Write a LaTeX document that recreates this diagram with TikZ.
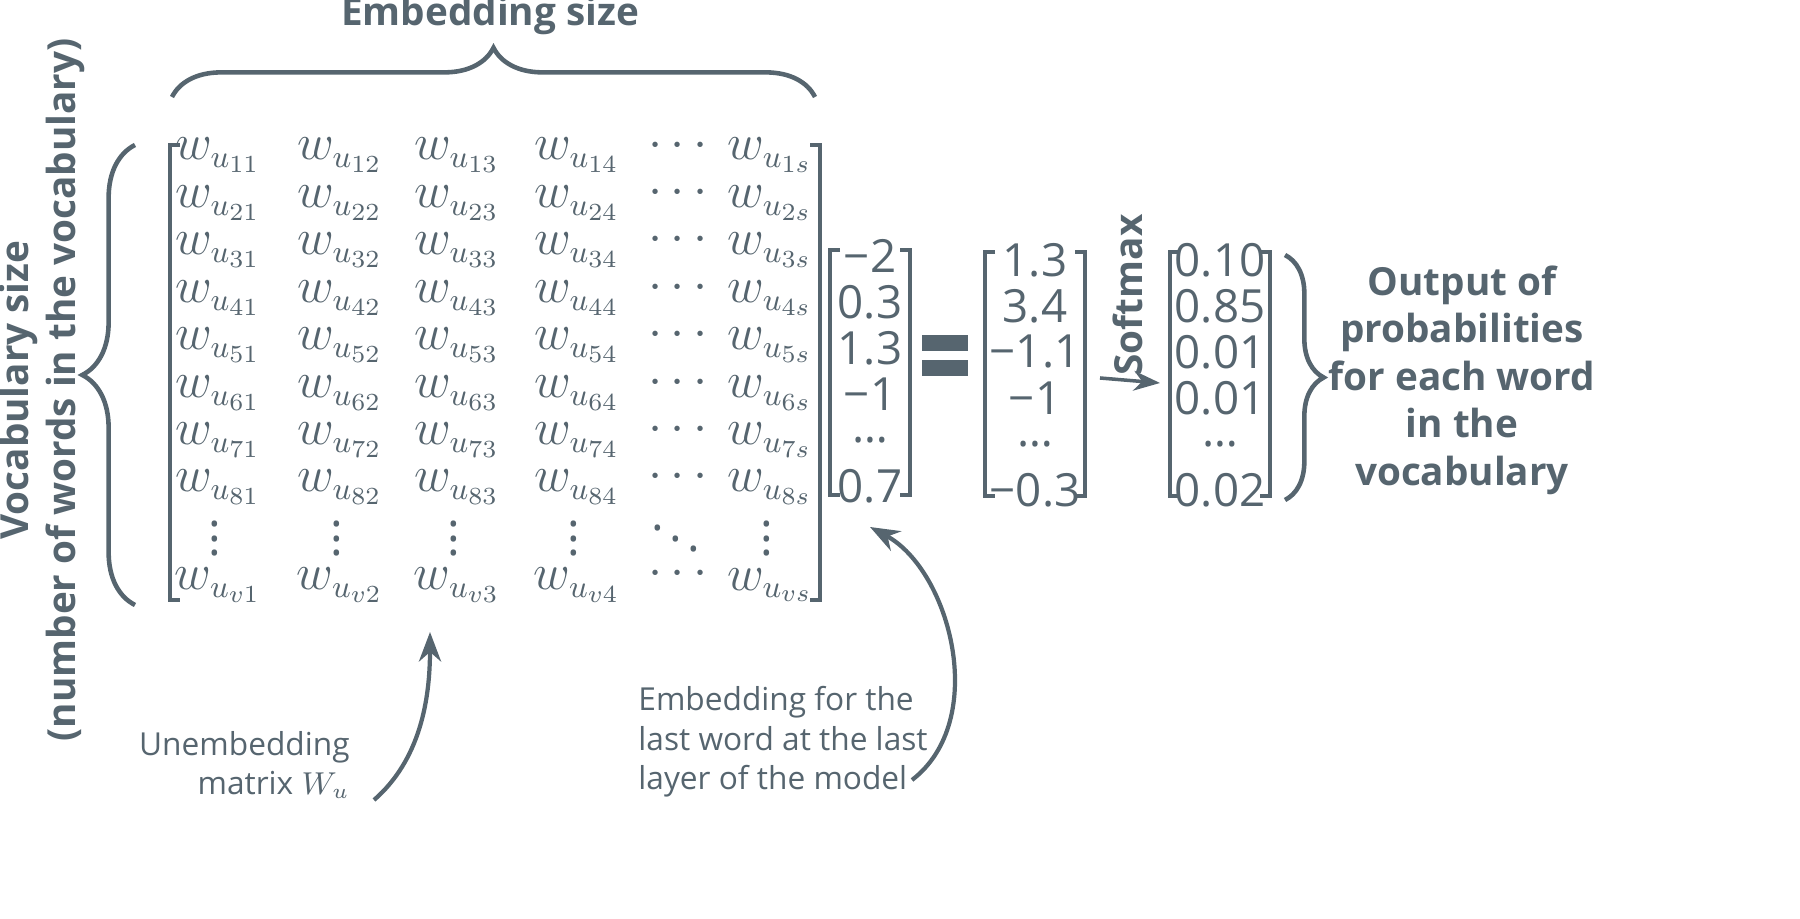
\documentclass[tikz,border=0pt]{standalone}
\usepackage{fontspec}
\setmainfont{Open Sans}
\usetikzlibrary{decorations.pathreplacing,positioning,arrows.meta}
\definecolor{penColor}{HTML}{56656F}
\tikzset{>=Stealth,
  entry/.style={text=penColor,font=\fontsize{13.5}{16}\selectfont},
  vec/.style={text=penColor,font=\fontsize{13}{15}\selectfont},
  lbl/.style={text=penColor,font=\bfseries\fontsize{11}{13.5}\selectfont,align=center},
  note/.style={text=penColor,font=\fontsize{9}{11.2}\selectfont},
  brk/.style={penColor,line width=1.2pt},
  brace/.style={penColor,line width=1.3pt,decorate,decoration={brace,amplitude=#1}},
  brace/.default=14pt}
\begin{document}
\begin{tikzpicture}[x=0.01cm,y=-0.01cm]
  \useasboundingbox (0,0) rectangle (1800,919);
  % unembedding matrix
  \foreach \c/\x/\j in {1/218/1,2/340/2,3/457/3,4/577/4,5/770/s}{
    \foreach \r/\y in {1/155,2/203,3/250,4/298,5/345,6/393,7/440,8/487}
      \node[entry] (w\c\r) at (\x,\y) {$w_{u_{\r\j}}$};
    \node[entry] (wd\c) at (\x-3,528) {$\vdots$};
    \node[entry] (wv\c) at (\x,585) {$w_{u_{v\j}}$};
  }
  \foreach \r/\y in {1/146,2/193,3/240,4/288,5/335,6/383,7/430,8/477,9/574}
    \node[entry] (dots\r) at (678,\y) {$\cdots$};
  \node[entry] (ddots) at (676,528) {$\ddots$};
  \draw[brk] (180,145) -- (170,145) -- (170,600) -- (180,600);
  \draw[brk] (810,145) -- (820,145) -- (820,600) -- (810,600);
  % embedding vector
  \foreach \v [count=\i] in {−2,0.3,1.3,−1,…,0.7}
    \node[vec] (e\i) at (870,210+46*\i) {\v};
  \draw[brk] (840,250) -- (830,250) -- (830,495) -- (840,495);
  \draw[brk] (900,250) -- (910,250) -- (910,495) -- (900,495);
  \draw[penColor,line width=4.5pt] (922,343) -- (968,343) (922,368) -- (968,368);
  % logits
  \foreach \v [count=\i] in {1.3,3.4,−1.1,−1,…,−0.3}
    \node[vec] (l\i) at (1035,214+46*\i) {\v};
  \draw[brk] (995,252) -- (985,252) -- (985,496) -- (995,496);
  \draw[brk] (1075,252) -- (1085,252) -- (1085,496) -- (1075,496);
  % probabilities
  \foreach \v [count=\i] in {0.10,0.85,0.01,0.01,…,0.02}
    \node[vec] (p\i) at (1220,214+46*\i) {\v};
  \draw[brk] (1180,252) -- (1170,252) -- (1170,496) -- (1180,496);
  \draw[brk] (1260,252) -- (1270,252) -- (1270,496) -- (1260,496);
  % softmax
  \coordinate (sm1) at (1100,378);
  \coordinate (sm2) at (1160,383);
  \draw[->,penColor,line width=1pt] (sm1) -- (sm2);
  \node[lbl,rotate=90] (softmax) at (1128,295) {Softmax};
  % braces and labels
  \draw[brace] (172,97) -- (815,97);
  \node[lbl] (embsize) at (490,15) {Embedding size};
  \draw[brace=15pt] (135,605) -- (135,145);
  \node[lbl,rotate=90] (vocab) at (42,390) {Vocabulary size\\(number of words in the vocabulary)};
  \draw[brace=11pt] (1285,255) -- (1285,500);
  \node[lbl] (output) at (1462,380) {Output of\\probabilities\\for each word\\in the\\vocabulary};
  % notes
  \node[note,align=right,anchor=east] (unemb) at (362,765) {Unembedding\\matrix $W_u$};
  \node[note,align=left,anchor=west] (embnote) at (626,742) {Embedding for the\\last word at the last\\layer of the model};
  \coordinate (ua) at (430,632);
  \coordinate (ea) at (870,527);
  \draw[->,penColor,line width=1.2pt] (374,800) .. controls (420,760) and (430,700) .. (ua);
  \draw[->,penColor,line width=1.2pt] (912,780) .. controls (990,720) and (950,570) .. (ea);
\end{tikzpicture}
\end{document}
